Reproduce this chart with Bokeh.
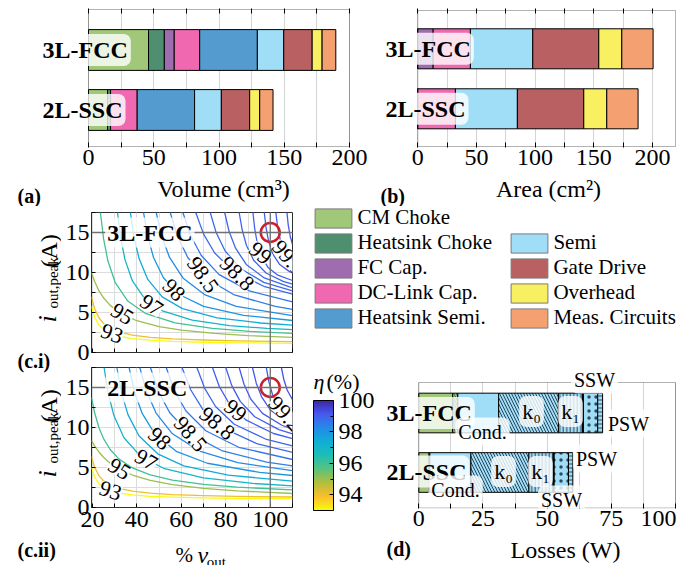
import numpy as np
from math import radians
from bokeh.plotting import figure
from bokeh.models import (ColumnDataSource, Label, Span, FixedTicker, BoxAnnotation,
                          Legend, LegendItem, LinearColorMapper, Range1d, ColorBar, LinearAxis)
from bokeh.layouts import row, column
from bokeh.embed import file_html
from bokeh.resources import INLINE
from bokeh.transform import linear_cmap

FONT = "Liberation Serif"

# ---------------- data ----------------
components = ["CM Choke", "Heatsink Choke", "FC Cap.", "DC-Link Cap.", "Heatsink Semi.",
              "Semi", "Gate Drive", "Overhead", "Meas. Circuits"]
comp_colors = ["#A0C878", "#4E8F70", "#A06CB0", "#F068B0", "#549BD0",
               "#A0DEF8", "#B86062", "#F8F060", "#F4A070"]
designs = ["3L-FCC", "2L-SSC"]
volume_3l = [46.0, 12.1, 7.6, 19.5, 44.2, 20.2, 21.8, 7.6, 10.5]
volume_2l = [14.6, 2.3, 0.0, 20.4, 44.0, 20.5, 21.7, 7.7, 10.2]
area_3l = [0.0, 0.0, 13.1, 31.8, 0.0, 53.1, 56.3, 19.6, 26.7]
area_2l = [0.0, 0.0, 0.0, 32.1, 0.0, 52.8, 56.6, 19.6, 26.7]

loss_parts = ["Choke Cond.", "Choke Core", "Semi Cond.", "k0", "k1", "SSW", "PSW"]
loss_3l = [13.2, 2.0, 15.9, 23.3, 9.5, 5.8, 1.9]
loss_2l = [4.0, 0.3, 16.0, 22.6, 9.6, 5.8, 1.7]

op_v = [100]
op_i = [15]

# efficiency contour lines (x: % v_out, y: i_out,peak in A)
fcc_levels = [93, 94, 95, 96, 97, 97.5, 98, 98.25, 98.5, 98.65, 98.8, 98.85, 98.9, 98.95,
              99, 99.05, 99.1, 99.15]
fcc_v = [
    [19.6, 21, 23, 25, 28, 32, 38, 46, 56, 70, 85, 110],
    [19.6, 21, 23, 25, 28, 32, 38, 46, 56, 70, 85, 110],
    [19.6, 21, 23, 25, 28, 33.3, 40, 50, 60, 75, 90, 110],
    [23.6, 25, 26.96, 30.3, 35.9, 43.8, 57.2, 74, 90.8, 110],
    [31.3, 32.7, 34.66, 38.0, 43.6, 51.5, 64.9, 81.7, 98.5, 110],
    [37.1, 38.7, 41.0, 44.9, 51.4, 60.5, 76.1, 95.6, 110],
    [43, 44.9, 47.5, 52, 59.5, 70, 88, 110],
    [48.7, 51.2, 54.7, 60.7, 70.7, 84.7, 110],
    [55, 58.3, 62.9, 70.8, 83.9, 102.3, 110],
    [60.7, 64.1, 68.9, 77.0, 90.6, 110],
    [66.5, 70.0, 75.0, 83.4, 97.5, 110],
    [73, 75.7, 79.6, 86.1, 97.1, 110],
    [79.5, 81.5, 84.4, 89.2, 97.3, 108.7, 110],
    [86, 87.4, 89.3, 92.6, 98.1, 105.8, 110],
    [92.2, 93.0, 94.1, 95.9, 99.0, 103.4, 110],
    [97.3, 98.1, 99.2, 101.0, 104.1, 108.5, 110],
    [102.5, 103.3, 104.5, 106.5, 109.8, 110],
    [107.5, 108.1, 109, 110],
]
fcc_i = [
    [5.78, 4.41, 3.42, 2.87, 2.39, 2.03, 1.74, 1.535, 1.39, 1.28, 1.215, 1.15],
    [6.95, 5.47, 4.31, 3.64, 3.03, 2.57, 2.18, 1.90, 1.71, 1.56, 1.46, 1.37],
    [9.96, 8.87, 7.70, 6.84, 5.89, 4.80, 3.97, 3.23, 2.79, 2.38, 2.12, 1.90],
    [17.5, 14.28, 11.46, 8.72, 6.43, 4.90, 3.70, 3.01, 2.64, 2.38],
    [17.5, 14.36, 11.61, 8.94, 6.71, 5.21, 4.04, 3.37, 3.01, 2.86],
    [17.5, 14.43, 11.74, 9.13, 6.95, 5.49, 4.34, 3.69, 3.41],
    [17.5, 14.5, 11.88, 9.32, 7.19, 5.76, 4.64, 4.0],
    [17.5, 14.5, 11.88, 9.32, 7.19, 5.76, 4.60],
    [17.5, 14.5, 11.88, 9.32, 7.19, 5.76, 5.40],
    [17.5, 14.65, 12.16, 9.73, 7.70, 6.34],
    [17.5, 14.8, 12.44, 10.14, 8.22, 7.30],
    [17.5, 14.96, 12.74, 10.57, 8.77, 7.70],
    [17.5, 15.12, 13.04, 11.01, 9.32, 8.19, 8.10],
    [17.5, 15.3, 13.38, 11.5, 9.94, 8.89, 8.55],
    [17.5, 15.5, 13.75, 12.05, 10.63, 9.67, 9.0],
    [17.5, 15.62, 13.98, 12.37, 11.04, 10.14, 9.94],
    [17.5, 15.7, 14.1, 12.6, 11.3, 11.25],
    [17.5, 15.9, 14.5, 13.5],
]
fcc_lab_text = ["93", "95", "97", "98", "98.5", "98.8", "99", "99.1"]
fcc_lab_v = [28.8, 33.3, 46.5, 56.6, 69.6, 85.0, 95.5, 108.2]
fcc_lab_i = [2.35, 4.8, 5.9, 7.8, 9.7, 9.85, 12.4, 11.8]
fcc_lab_ang = [-20, -32, -34, -45, -55, -45, -40, -50]

ssc_levels = [93, 94, 95, 96, 97, 97.5, 98, 98.25, 98.5, 98.65, 98.8, 98.9, 99, 99.05,
              99.1, 99.15, 99.2, 99.25]
ssc_v = [
    [19.6, 21, 23, 25, 28.1, 32, 38, 46, 56, 70, 85, 110],
    [19.6, 21, 23, 25, 28, 32, 38, 46, 56, 70, 85, 110],
    [19.6, 21, 23, 25, 28, 32.1, 38, 46, 56, 70, 85, 110],
    [19.6, 21, 23, 25, 28, 32, 38, 46, 56, 70, 85, 110],
    [25.26, 27.1, 29.7, 34.2, 41.6, 52.0, 69.9, 92.2, 110],
    [31, 33.1, 36.0, 41.0, 49.4, 61.1, 81.1, 110],
    [36.5, 38.9, 42.4, 48.2, 58.0, 71.7, 95.2, 110],
    [41.3, 44.4, 48.65, 56.0, 68.25, 85.4, 110],
    [46.1, 49.7, 54.8, 63.5, 78.1, 98.4, 110],
    [53.2, 56.9, 62.1, 71.0, 85.8, 110],
    [60.3, 64.2, 69.6, 78.9, 94.3, 110],
    [67, 70.5, 75.4, 83.8, 97.9, 110],
    [74, 77.1, 81.5, 89, 101.5, 110],
    [80, 82.7, 86.5, 93.0, 103.9, 110],
    [86, 88.2, 91.2, 96.5, 105.2, 110],
    [92, 93.7, 96.1, 100.2, 107.1, 110],
    [98.2, 99.4, 101.0, 103.8, 108.5, 110],
    [105, 106.1, 107.6, 109.8, 110],
]
ssc_i = [
    [5.05, 3.81, 2.94, 2.48, 2.08, 1.80, 1.57, 1.40, 1.29, 1.20, 1.15, 1.10],
    [6.35, 5.01, 3.96, 3.35, 2.81, 2.39, 2.04, 1.79, 1.61, 1.48, 1.39, 1.31],
    [8.38, 7.70, 6.91, 6.28, 5.54, 4.80, 4.06, 3.40, 2.87, 2.40, 2.08, 1.75],
    [13.74, 11.84, 9.94, 8.62, 7.25, 6.05, 4.94, 4.07, 3.42, 2.89, 2.54, 2.20],
    [17.5, 14.28, 11.46, 8.72, 6.43, 4.90, 3.70, 3.01, 2.70],
    [17.5, 14.36, 11.61, 8.94, 6.71, 5.21, 4.04, 3.30],
    [17.5, 14.44, 11.76, 9.15, 6.98, 5.53, 4.39, 4.0],
    [17.5, 14.46, 11.8, 9.21, 7.05, 5.60, 4.60],
    [17.5, 14.48, 11.84, 9.26, 7.12, 5.68, 5.21],
    [17.5, 14.6, 12.06, 9.59, 7.53, 6.0],
    [17.5, 14.72, 12.29, 9.92, 7.94, 6.90],
    [17.5, 14.9, 12.63, 10.41, 8.56, 7.70],
    [17.5, 15.1, 13.0, 10.95, 9.25, 8.6],
    [17.5, 15.24, 13.26, 11.34, 9.73, 9.2],
    [17.5, 15.4, 13.56, 11.77, 10.28, 9.80],
    [17.5, 15.54, 13.83, 12.15, 10.76, 10.4],
    [17.5, 15.7, 14.13, 12.59, 11.31, 11.06],
    [17.5, 16.0, 14.69, 13.57, 13.5],
]
ssc_lab_text = ["93", "95", "97", "98", "98.5", "98.8", "99", "99.2"]
ssc_lab_v = [28.1, 32.1, 44.1, 50.1, 64.0, 76.0, 84.3, 106.7]
ssc_lab_i = [2.08, 4.8, 5.96, 8.6, 9.17, 10.5, 12.1, 11.7]
ssc_lab_ang = [-18, -32, -30, -42, -50, -40, -40, -48]

eta_ticks = [94, 96, 98, 100]
eta_minor = [93, 95, 97, 99]

# -------------- colormap (parula, reversed) --------------
_anch = [(0.0, (62, 38, 168)), (0.125, (70, 90, 240)), (0.25, (35, 140, 230)),
         (0.375, (15, 175, 215)), (0.5, (30, 190, 180)), (0.625, (90, 195, 125)),
         (0.75, (180, 190, 60)), (0.875, (250, 190, 45)), (1.0, (249, 251, 14))]


def _parula(t):
    for (t0, c0), (t1, c1) in zip(_anch[:-1], _anch[1:]):
        if t0 <= t <= t1:
            f = (t - t0) / (t1 - t0)
            return "#%02x%02x%02x" % tuple(int(round(a + (b - a) * f)) for a, b in zip(c0, c1))
    return "#%02x%02x%02x" % _anch[-1][1]


PAL = [_parula(1 - k / 255) for k in range(256)]


# -------------- helpers --------------
def make_fig(w, h, l, r, t, b, xr, yr):
    p = figure(width=w, height=h, x_range=Range1d(*xr), y_range=Range1d(*yr),
               toolbar_location=None, output_backend="svg",
               min_border_left=l, min_border_right=r, min_border_top=t, min_border_bottom=b)
    p.outline_line_color = "black"
    p.outline_line_width = 1
    p.background_fill_color = "white"
    p.border_fill_color = "white"
    return p


def text_fig(w, h):
    p = figure(width=w, height=h, x_range=Range1d(0, w), y_range=Range1d(0, h),
               toolbar_location=None, output_backend="svg", min_border=0)
    p.axis.visible = False
    p.grid.visible = False
    p.outline_line_color = None
    p.border_fill_color = "white"
    return p


def conv(frame, xr, yr):
    fx0, fy0, fx1, fy1 = frame

    def f(px, py):
        x = xr[0] + (px - fx0) / (fx1 - fx0) * (xr[1] - xr[0])
        y = yr[1] - (py - fy0) / (fy1 - fy0) * (yr[1] - yr[0])
        return x, y
    return f


def ranges(frame, x_px0, x_s, y_px0, y_s, y_v0):
    fx0, fy0, fx1, fy1 = frame
    xr = ((fx0 - x_px0) / x_s, (fx1 - x_px0) / x_s)
    yr = (y_v0 + (y_px0 - fy1) / y_s, y_v0 + (y_px0 - fy0) / y_s)
    return xr, yr


def style_axis(ax, ticks, minor, size="24px", standoff=2):
    ax.ticker = FixedTicker(ticks=ticks, minor_ticks=minor)
    ax.major_tick_in = 5
    ax.major_tick_out = 0
    ax.minor_tick_in = 5
    ax.minor_tick_out = 0
    ax.major_tick_line_color = "black"
    ax.minor_tick_line_color = "black"
    ax.axis_line_color = None
    ax.major_label_text_font = FONT
    ax.major_label_text_font_size = size
    ax.major_label_text_color = "black"
    ax.major_label_standoff = standoff


def tick_only_axis(positions, length=5):
    # an axis that only carries (minor) tick marks, no labels
    ax = LinearAxis(ticker=FixedTicker(ticks=[], minor_ticks=positions))
    ax.major_tick_in = 0
    ax.major_tick_out = 0
    ax.minor_tick_in = length
    ax.minor_tick_out = 0
    ax.minor_tick_line_color = "black"
    ax.axis_line_color = None
    ax.major_label_standoff = 0
    return ax


def lbl(p, cv, px, py, text, size=24, style="normal", align="left", baseline="middle",
        angle=0.0, glow=False):
    x, y = cv(px, py)
    kw = {}
    if glow:
        kw = dict(background_fill_color="white", background_fill_alpha=0.8,
                  border_radius=7, padding=3)
    p.add_layout(Label(x=x, y=y, text=text, text_font=FONT, text_font_size=f"{size}px",
                       text_font_style=style, text_align=align, text_baseline=baseline,
                       angle=angle, text_color="black", **kw))


def bar_panel(w, frame_pg, l, r, t, b, x_px0, x_s, y1_px, bar_h, box_right, box_y,
              vals3, vals2, ticks, minor, name_left):
    xr, yr = ranges(frame_pg, x_px0, x_s, y1_px + 60, 60, 0)
    p = make_fig(w, 176, l, r, t, b, xr, yr)
    p.outline_line_color = None
    keys = [f"c{k}" for k in range(len(components))]
    data = {"y": [1, 0]}
    for k, a3, a2 in zip(keys, vals3, vals2):
        data[k] = [a3, a2]
    src = ColumnDataSource(data)
    p.hbar_stack(keys, y="y", height=bar_h, source=src, fill_color=comp_colors,
                 line_color="black", line_width=1)
    p.yaxis.visible = False
    p.ygrid.visible = False
    style_axis(p.xaxis[0], ticks, minor)
    p.add_layout(tick_only_axis(sorted(ticks + minor)), "above")
    p.xgrid.ticker = FixedTicker(ticks=ticks, minor_ticks=minor)
    p.xgrid.grid_line_color = "#d4d4d4"
    p.xgrid.minor_grid_line_color = "#d4d4d4"
    cv = conv(frame_pg, xr, yr)
    _, yb = cv(0, box_y[1])
    _, yt = cv(0, box_y[0])
    p.add_layout(BoxAnnotation(left=0, right=box_right, bottom=yb, top=yt, fill_alpha=0,
                               line_color="black", line_width=1))
    lbl(p, cv, name_left, y1_px, designs[0], 24, style="bold", glow=True)
    lbl(p, cv, name_left, y1_px + 60, designs[1], 24, style="bold", glow=True)
    return p


# -------------- panel (a) & (b) --------------
pA = bar_panel(370, (0, 8, 350, 147), 0, 20, 8, 29, 88, 1.305, 49.5, 0.68, 200, (9, 146),
               volume_3l, volume_2l, [0, 50, 100, 150, 200], [25, 75, 125, 175], 39)
pB = bar_panel(306, (370, 8, 676, 147), 0, 0, 8, 29, 417.3, 1.173, 48.3, 0.667,
               (675 - 417.3) / 1.173, (10, 146), area_3l, area_2l,
               [0, 50, 100, 150, 200], [25, 75, 125, 175], 382)

S1 = text_fig(676, 30)
cs1 = conv((0, 176, 676, 206), (0, 676), (0, 30))
lbl(S1, cs1, 17, 195, "(a)", 20, style="bold")
lbl(S1, cs1, 223, 188, "Volume (cm³)", 24, align="center")
lbl(S1, cs1, 380, 195, "(b)", 20, style="bold")
lbl(S1, cs1, 548, 188, "Area (cm²)", 24, align="center")

YW = 61  # width of the strip that carries the rotated y-axis titles


# -------------- contour panels --------------
def contour_panel(h, t, b, frame, levels, vs, iss, lt, lv, li, la, name, xlabels):
    xr, yr = (19.6, 110), (0, 17.5)
    p = make_fig(300 - YW, h, 91 - YW, 8, t, b, xr, yr)
    p.outline_line_color = "#303030"
    xt, xm = [20, 40, 60, 80, 100], [30, 50, 70, 90, 110]
    if xlabels:
        style_axis(p.xaxis[0], xt, xm, standoff=4)
        p.xaxis.major_tick_in = 4
        p.xaxis.minor_tick_in = 4
    else:
        p.xaxis.visible = False
        p.add_layout(tick_only_axis(sorted(xt + xm), 4), "below")
    style_axis(p.yaxis[0], [0, 5, 10, 15], [2.5, 7.5, 12.5, 17.5], standoff=2)
    p.yaxis.major_tick_in = 4
    p.yaxis.minor_tick_in = 4
    p.xgrid.ticker = FixedTicker(ticks=xt, minor_ticks=xm)
    p.ygrid.ticker = FixedTicker(ticks=[0, 5, 10, 15], minor_ticks=[2.5, 7.5, 12.5, 17.5])
    for g in (p.xgrid, p.ygrid):
        g.grid_line_color = "#dcdcdc"
        g.minor_grid_line_color = "#dcdcdc"
    p.add_layout(Span(location=op_v[0], dimension="height", line_color="#707070", line_width=1.3))
    p.add_layout(Span(location=op_i[0], dimension="width", line_color="#707070", line_width=1.3))
    src = ColumnDataSource(dict(xs=vs, ys=iss, level=levels))
    p.multi_line(xs="xs", ys="ys", source=src, line_width=1.3, line_join="round",
                 line_color=linear_cmap("level", PAL, 93, 100))
    for tx, v, i, a in zip(lt, lv, li, la):
        p.add_layout(Label(x=v, y=i, text=tx, text_font=FONT, text_font_size="22px",
                           text_align="center", text_baseline="middle", angle=radians(a),
                           text_color="black", background_fill_color="white",
                           background_fill_alpha=1.0, padding=0))
    p.scatter(op_v, op_i, marker="circle", size=19, fill_color=None,
              line_color="#C8202E", line_width=2.5)
    cv = conv(frame, xr, yr)
    x0, _ = cv(104.7, 0)
    p.add_layout(Label(x=x0, y=op_i[0], text=name, text_font=FONT, text_font_size="24px",
                       text_font_style="bold", text_baseline="middle", text_color="black",
                       background_fill_color="white", background_fill_alpha=0.8,
                       border_radius=7, padding=2))
    return p


pC1 = contour_panel(160, 6, 14, (91, 212, 292, 352), fcc_levels, fcc_v, fcc_i,
                    fcc_lab_text, fcc_lab_v, fcc_lab_i, fcc_lab_ang, designs[0], False)
pC2 = contour_panel(172, 1, 31, (91, 367, 292, 507), ssc_levels, ssc_v, ssc_i,
                    ssc_lab_text, ssc_lab_v, ssc_lab_i, ssc_lab_ang, designs[1], True)

YL = text_fig(YW, 359)
cyl = conv((0, 206, YW, 565), (0, YW), (0, 359))
for dy in (0, 155):
    lbl(YL, cyl, 47, 322 + dy, "i", 26, style="italic", baseline="alphabetic", angle=radians(90))
    lbl(YL, cyl, 52, 308 + dy, "out,peak", 15, baseline="alphabetic", angle=radians(90))
    lbl(YL, cyl, 48, 267 + dy, "(A)", 24, baseline="alphabetic", angle=radians(90))
lbl(YL, cyl, 17, 360, "(c.i)", 20, style="bold")
lbl(YL, cyl, 17, 549, "(c.ii)", 20, style="bold")

S2 = text_fig(300 - YW, 27)
cs2 = conv((YW, 538, 300, 565), (0, 300 - YW), (0, 27))
lbl(S2, cs2, 161, 554, "%", 21, baseline="alphabetic")
lbl(S2, cs2, 187, 554, "v", 24, style="italic", baseline="alphabetic")
lbl(S2, cs2, 198, 561, "out", 15, baseline="alphabetic")

# -------------- legend --------------
pL = text_fig(376, 159)
items = []
for name, col in zip(components, comp_colors):
    r = pL.quad(left=[1000], right=[1001], top=[1001], bottom=[1000], fill_color=col,
                line_color="#7a7a7a", line_width=1)
    items.append(LegendItem(label=name, renderers=[r]))
for its, loc in ((items[:5], (10.4, 34.7)), (items[5:], (206.4, 34.7))):
    lg = Legend(items=its, location=loc, glyph_width=46, glyph_height=24, spacing=0,
                padding=0, margin=0, label_standoff=1, label_text_font=FONT,
                label_text_font_size="21px", label_text_color="black",
                border_line_color=None, background_fill_alpha=0)
    pL.add_layout(lg)

# -------------- colorbar --------------
pCB = text_fig(75, 200)
mapper = LinearColorMapper(palette=PAL, low=93, high=100)
cb = ColorBar(color_mapper=mapper, ticker=FixedTicker(ticks=eta_ticks, minor_ticks=eta_minor),
              location=(13, 55), width=20, height=110, padding=0, margin=0,
              orientation="vertical", bar_line_color="black", bar_line_width=1,
              major_tick_in=4, major_tick_out=0, minor_tick_in=3, minor_tick_out=0,
              major_tick_line_color="black", minor_tick_line_color="black",
              label_standoff=5, major_label_text_font=FONT, major_label_text_font_size="24px",
              major_label_text_color="black", background_fill_alpha=0, border_line_color=None)
pCB.add_layout(cb)
ccb = conv((300, 365, 375, 565), (0, 75), (0, 200))
lbl(pCB, ccb, 313, 381, "η", 22, style="italic", baseline="alphabetic")
lbl(pCB, ccb, 326, 381, "(%)", 22, baseline="alphabetic")

# -------------- panel (d) --------------
dframe = (375, 365, 676, 508)
dxr, dyr = ranges(dframe, 418.3, 2.567, 472, 59.5, 0)
pD = make_fig(301, 175, 0, 0, 0, 32, dxr, dyr)
pD.outline_line_color = None
lkeys = [f"l{k}" for k in range(len(loss_parts))]
ldata = {"y": [1, 0]}
for k, a3, a2 in zip(lkeys, loss_3l, loss_2l):
    ldata[k] = [a3, a2]
lsrc = ColumnDataSource(ldata)
loss_fill = ["#A0C878", "#A0C878", "#A0DEF8", "#A0DEF8", "#A0DEF8", "#A0DEF8", "#A0DEF8"]
loss_hatch = [" ", "\\", " ", "\\", "|", ".", "-"]
loss_hcolor = ["black", "#2E5E3E", "black", "#2A4358", "#34485C", "#34485C", "#34485C"]
loss_hscale = [6, 5, 6, 6, 3.5, 7, 4]
pD.hbar_stack(lkeys, y="y", height=0.666, source=lsrc, fill_color=loss_fill,
              line_color="black", line_width=1, hatch_pattern=loss_hatch,
              hatch_color=loss_hcolor, hatch_scale=loss_hscale, hatch_weight=1)
sep_x = [sum(loss_3l[:5]), sum(loss_2l[:5])]
pD.segment(x0=sep_x, x1=sep_x, y0=[1 - 0.333, -0.333], y1=[1 + 0.333, 0.333],
           line_color="black", line_width=2.2)
pD.yaxis.visible = False
pD.ygrid.visible = False
d_ticks, d_minor = [0, 25, 50, 75, 100], [12.5, 37.5, 62.5, 87.5]
style_axis(pD.xaxis[0], d_ticks, d_minor)
pD.xgrid.ticker = FixedTicker(ticks=d_ticks, minor_ticks=d_minor)
pD.xgrid.grid_line_color = "#d4d4d4"
pD.xgrid.minor_grid_line_color = "#d4d4d4"
cvd = conv(dframe, dxr, dyr)
_, d_top = cvd(0, 382)
_, d_bot = cvd(0, 507.5)
pD.add_layout(BoxAnnotation(bottom=d_top, fill_color="white", fill_alpha=1, line_alpha=0))
pD.add_layout(BoxAnnotation(left=0, right=100, bottom=d_bot, top=d_top, fill_alpha=0,
                            line_color="black", line_width=1))
lbl(pD, cvd, 383, 412.5, designs[0], 24, style="bold", glow=True)
lbl(pD, cvd, 383, 471, designs[1], 24, style="bold", glow=True)
lbl(pD, cvd, 482, 431, "Cond.", 20, align="center", glow=True)
lbl(pD, cvd, 455, 489, "Cond.", 20, align="center", glow=True)
lbl(pD, cvd, 531, 411, "k₀", 22, align="center", glow=True)
lbl(pD, cvd, 570, 411, "k₁", 22, align="center", glow=True)
lbl(pD, cvd, 503, 471, "k₀", 22, align="center", glow=True)
lbl(pD, cvd, 540, 471, "k₁", 22, align="center", glow=True)
lbl(pD, cvd, 594, 379, "SSW", 20, align="center", glow=True)
lbl(pD, cvd, 628, 423, "PSW", 20, align="center", glow=True)
lbl(pD, cvd, 596, 458, "PSW", 20, align="center", glow=True)
lbl(pD, cvd, 561, 499, "SSW", 20, align="center", glow=True)

S3 = text_fig(301, 25)
cs3 = conv((375, 540, 676, 565), (0, 301), (0, 25))
lbl(S3, cs3, 386, 548, "(d)", 20, style="bold")
lbl(S3, cs3, 565, 549, "Losses (W)", 24, align="center")

layout = column(
    row(pA, pB),
    S1,
    row(row(YL, column(pC1, pC2, S2)),
        column(pL, row(pCB, column(pD, S3)))),
)

open("out.html", "w").write(file_html(layout, INLINE))
